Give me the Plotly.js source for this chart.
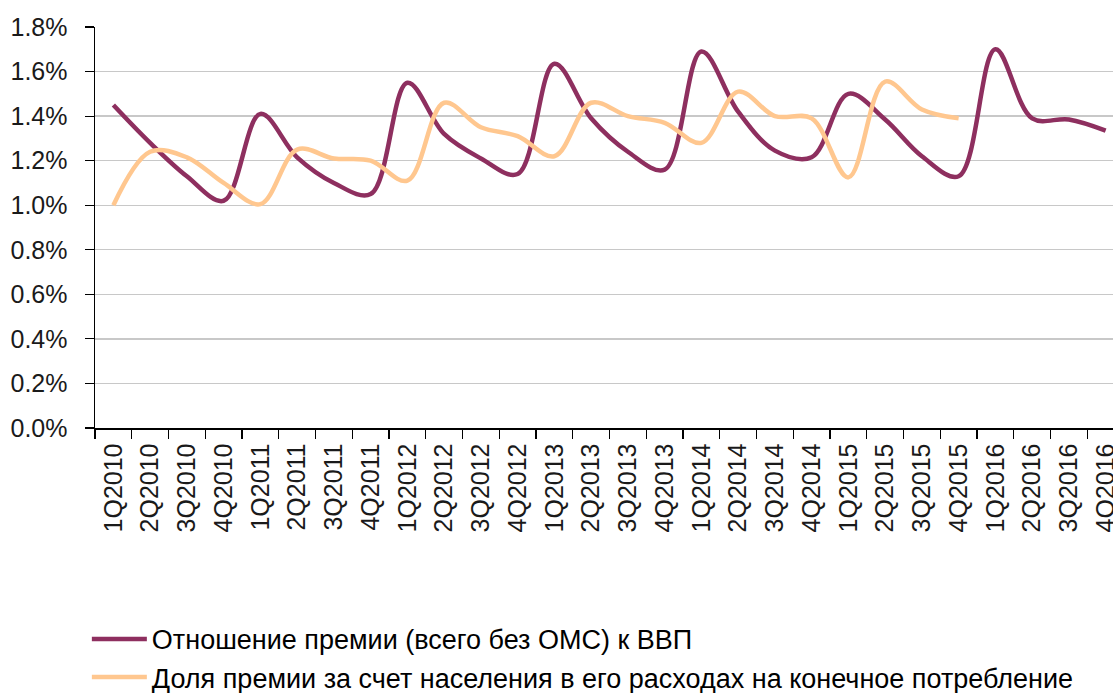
<!DOCTYPE html>
<html>
<head>
<meta charset="utf-8">
<script src="https://cdn.plot.ly/plotly-3.0.1.min.js"></script>
<style>
html,body{margin:0;padding:0;background:#fff;overflow:hidden;}
#chart{width:1113px;height:693px;}
</style>
</head>
<body>
<div id="chart"></div>
<script>
const categories = ["1Q2010","2Q2010","3Q2010","4Q2010","1Q2011","2Q2011","3Q2011","4Q2011",
  "1Q2012","2Q2012","3Q2012","4Q2012","1Q2013","2Q2013","3Q2013","4Q2013",
  "1Q2014","2Q2014","3Q2014","4Q2014","1Q2015","2Q2015","3Q2015","4Q2015",
  "1Q2016","2Q2016","3Q2016","4Q2016"];

const seriesNames = ["Отношение премии (всего без ОМС) к ВВП",
  "Доля премии за счет населения в его расходах на конечное потребление"];

// values in percent
const premiumToGdp = [1.45, 1.28, 1.13, 1.02, 1.41, 1.215, 1.10, 1.05,
  1.55, 1.32, 1.21, 1.14, 1.635, 1.39, 1.24, 1.16,
  1.69, 1.42, 1.245, 1.215, 1.50, 1.385, 1.22, 1.13,
  1.70, 1.39, 1.385, 1.335];

const householdShare = [1.00, 1.24, 1.215, 1.10, 1.005, 1.25, 1.21, 1.20,
  1.11, 1.46, 1.35, 1.31, 1.22, 1.46, 1.40, 1.37,
  1.28, 1.51, 1.40, 1.39, 1.125, 1.555, 1.43, 1.39];

const yTicks = [0, 0.2, 0.4, 0.6, 0.8, 1.0, 1.2, 1.4, 1.6, 1.8];
const yTickText = ["0.0%", "0.2%", "0.4%", "0.6%", "0.8%", "1.0%", "1.2%", "1.4%", "1.6%", "1.8%"];

const fontFamily = '"Liberation Sans", Arial, sans-serif';

const traces = [
  {
    x: categories, y: premiumToGdp, name: seriesNames[0],
    type: 'scatter', mode: 'lines',
    line: {color: '#8E2F5F', width: 4.5, shape: 'spline', smoothing: 1}
  },
  {
    x: categories.slice(0, householdShare.length), y: householdShare, name: seriesNames[1],
    type: 'scatter', mode: 'lines',
    line: {color: '#FFC78F', width: 4.5, shape: 'spline', smoothing: 1}
  }
];

const layout = {
  width: 1113, height: 693,
  margin: {l: 95, r: 0, t: 27, b: 265, pad: 0, autoexpand: false},
  paper_bgcolor: '#ffffff', plot_bgcolor: '#ffffff',
  font: {family: fontFamily, color: '#1a1a1a', size: 25},
  showlegend: true,
  legend: {
    orientation: 'v', x: -0.008, y: -0.466, xanchor: 'left', yanchor: 'top',
    itemwidth: 55,
    font: {family: fontFamily, size: 27, color: '#000'},
    bgcolor: 'rgba(0,0,0,0)', tracegroupgap: 0
  },
  xaxis: {
    type: 'category', categoryorder: 'array', categoryarray: categories,
    range: [-0.5, 27.2],
    showline: true, linecolor: '#000', linewidth: 1.5,
    ticks: 'outside', ticklen: 9, tickcolor: '#000', tickwidth: 1.2,
    tickson: 'boundaries', automargin: false,
    tickangle: -90, showgrid: false, zeroline: false,
    tickfont: {family: fontFamily, size: 25, color: '#1a1a1a'},
    ticklabelstandoff: 4
  },
  yaxis: {
    range: [0, 1.8], tickmode: 'array', tickvals: yTicks, ticktext: yTickText,
    showline: true, linecolor: '#000', linewidth: 1.5,
    ticks: 'outside', ticklen: 9, tickcolor: '#000', tickwidth: 1.2,
    showgrid: true, gridcolor: '#c8c8c8', gridwidth: 1.3,
    zeroline: false, automargin: false,
    tickfont: {family: fontFamily, size: 25, color: '#1a1a1a'},
    ticklabelstandoff: 12
  }
};

Plotly.newPlot('chart', traces, layout, {displayModeBar: false, staticPlot: true});
</script>
</body>
</html>
